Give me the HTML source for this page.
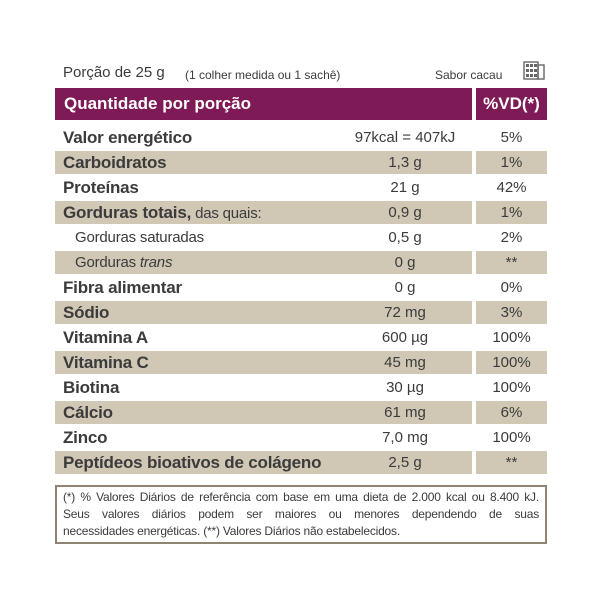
<!DOCTYPE html>
<html><head><meta charset="utf-8"><style>
body{margin:0;width:600px;height:600px;background:#fff;font-family:"Liberation Sans",sans-serif;color:#3b3b3b;position:relative;overflow:hidden}
.abs{position:absolute}
.row{position:absolute;left:55px;width:492px;height:23px}
.band .l{background:#d0c7b5}
.l{position:absolute;left:0;width:417px;height:23px}
.r{position:absolute;left:421px;width:71px;height:23px}
.band .r{background:#d0c7b5}
.name{position:absolute;left:8px;top:2px;font-size:17px;font-weight:bold;white-space:nowrap;letter-spacing:-0.2px}
.name.sub{font-weight:normal;left:20px;font-size:15px;top:3px}
.val{position:absolute;left:300px;width:100px;text-align:center;top:3px;font-size:15px}
.pct{position:absolute;left:0;width:71px;text-align:center;top:3px;font-size:15px}
.fl{display:block;white-space:nowrap;text-align:justify;text-align-last:justify}
</style></head><body>
<div class="abs" style="left:63px;top:64px;font-size:15px">Porção de 25 g</div>
<div class="abs" style="left:185px;top:68px;font-size:12px">(1 colher medida ou 1 sachê)</div>
<div class="abs" style="left:435px;top:68px;font-size:12px">Sabor cacau</div>
<svg class="abs" style="left:523px;top:61px" width="22" height="20"><rect x="1" y="1" width="14" height="17" fill="none" stroke="#666" stroke-width="1.4"/><rect x="15" y="4" width="6" height="14" fill="none" stroke="#666" stroke-width="1.4"/><g fill="#666"><rect x="3" y="3" width="3" height="3"/><rect x="7" y="3" width="3" height="3"/><rect x="11" y="3" width="3" height="3"/><rect x="3" y="8" width="3" height="3"/><rect x="7" y="8" width="3" height="3"/><rect x="11" y="8" width="3" height="3"/><rect x="3" y="13" width="3" height="3"/><rect x="7" y="13" width="3" height="3"/><rect x="11" y="13" width="3" height="3"/></g></svg>
<div class="abs" style="left:55px;top:88px;width:417px;height:32px;background:#7e1a55"><span style="position:absolute;left:9px;top:6px;color:#fff;font-weight:bold;font-size:17px">Quantidade por porção</span></div>
<div class="abs" style="left:476px;top:88px;width:71px;height:32px;background:#7e1a55"><span style="position:absolute;left:0;width:71px;text-align:center;top:6px;color:#fff;font-weight:bold;font-size:17px">%VD(*)</span></div>
<div id="rows"></div>
<div class="abs" style="left:55px;top:485px;width:488px;height:53px;border:2px solid #8f8474;font-size:12px;letter-spacing:-0.2px;line-height:17px;padding:2px 0 0 0">
<div style="padding:0 6px">
<span class="fl">(*) % Valores Diários de referência com base em uma dieta de 2.000 kcal ou 8.400 kJ.</span>
<span class="fl">Seus valores diários podem ser maiores ou menores dependendo de suas</span>
<span style="display:block;white-space:nowrap">necessidades energéticas. (**) Valores Diários não estabelecidos.</span></div></div>
<script>
const names=["Valor energético","Carboidratos","Proteínas","Gorduras totais,","Gorduras saturadas","Gorduras trans","Fibra alimentar","Sódio","Vitamina A","Vitamina C","Biotina","Cálcio","Zinco","Peptídeos bioativos de colágeno"];
const values=["97kcal = 407kJ","1,3 g","21 g","0,9 g","0,5 g","0 g","0 g","72 mg","600 µg","45 mg","30 µg","61 mg","7,0 mg","2,5 g"];
const pcts=["5%","1%","42%","1%","2%","**","0%","3%","100%","100%","100%","6%","100%","**"];
const c=document.getElementById('rows');
names.forEach((n,i)=>{
const r=document.createElement('div');


r.className='row'+(i%2?' band':'');
r.style.top=(126+i*25)+'px';
let nm=n;
if(i==3)nm='Gorduras totais,<span style="font-weight:normal;font-size:15px"> das quais:</span>';
if(i==5)nm='Gorduras <i>trans</i>';
const sub=(i==4||i==5)?' sub':'';
r.innerHTML='<div class="l"><span class="name'+sub+'">'+nm+'</span><span class="val"'+(i==0?' style="left:280px;width:140px"':'')+'>'+values[i]+'</span></div><div class="r"><span class="pct">'+pcts[i]+'</span></div>';
c.appendChild(r);
});
</script>
</body></html>
